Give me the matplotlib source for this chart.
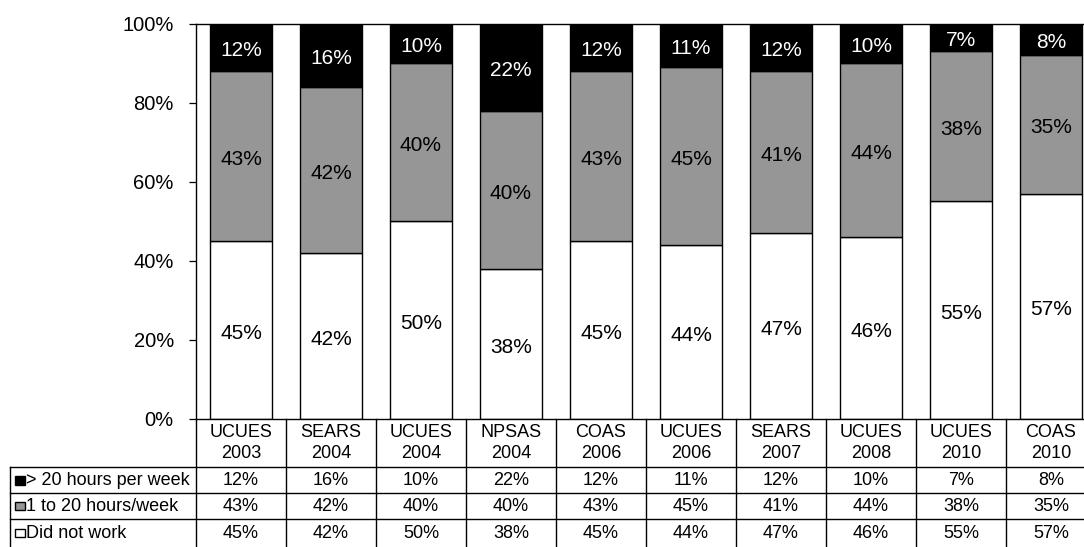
import matplotlib
matplotlib.use("Agg")
import matplotlib.pyplot as plt
from matplotlib.patches import Rectangle
from matplotlib.transforms import blended_transform_factory
from matplotlib.ticker import PercentFormatter

plt.rcParams['font.family'] = ['Liberation Sans', 'DejaVu Sans']

surveys = ["UCUES\n2003", "SEARS\n2004", "UCUES\n2004", "NPSAS\n2004", "COAS\n2006",
           "UCUES\n2006", "SEARS\n2007", "UCUES\n2008", "UCUES\n2010", "COAS\n2010"]
series_names = ["> 20 hours per week", "1 to 20 hours/week", "Did not work"]
over_20 = [12, 16, 10, 22, 12, 11, 12, 10, 7, 8]
one_to_20 = [43, 42, 40, 40, 43, 45, 41, 44, 38, 35]
did_not_work = [45, 42, 50, 38, 45, 44, 47, 46, 55, 57]
series_colors = ["#000000", "#969696", "#ffffff"]
label_colors = ["white", "black", "black"]

W, H = 1084, 547
fig = plt.figure(figsize=(W / 100, H / 100), dpi=100)
ax = fig.add_axes([196 / W, 1 - 419 / H, 900 / W, 395.5 / H])

x = list(range(len(surveys)))
bar_w = 0.68
stack = [(did_not_work, 2), (one_to_20, 1), (over_20, 0)]
bottom = [0] * len(x)
for vals, k in stack:
    ax.bar(x, vals, width=bar_w, bottom=bottom, color=series_colors[k],
           edgecolor="black", linewidth=1.0, zorder=2)
    for i, v in enumerate(vals):
        ax.annotate(f"{v}%", (x[i], bottom[i] + v / 2), xytext=(0, -2.5),
                    textcoords="offset points", ha="center", va="center",
                    fontsize=15, color=label_colors[k], zorder=3)
    bottom = [b + v for b, v in zip(bottom, vals)]

ax.set_xlim(-0.5, len(x) - 0.5)
ax.set_ylim(0, 100)
ax.set_yticks([0, 20, 40, 60, 80, 100])
ax.yaxis.set_major_formatter(PercentFormatter(decimals=0))
ax.tick_params(axis="y", direction="out", length=5, width=0.9, pad=11, labelsize=14.5)
ax.set_xticks([])
for s in ax.spines.values():
    s.set_linewidth(1.0)

# data table under the plot
tr = blended_transform_factory(ax.transData, ax.transAxes)
def yfrac(py):
    return (419 - py) / 395.5

row_lines = [467, 493, 518.5, 547]
x_left = -0.5 + (10 - 196) / 90
line_kw = dict(color="black", linewidth=1.0, transform=tr, clip_on=False)

# header cells
for i in range(len(x) + 1):
    ax.plot([i - 0.5, i - 0.5], [yfrac(419), yfrac(547)], **line_kw)
for py in row_lines[:-1]:
    ax.plot([x_left, len(x) - 0.5], [yfrac(py), yfrac(py)], **line_kw)
ax.plot([x_left, x_left], [yfrac(467), yfrac(547)], **line_kw)

for i, name in enumerate(surveys):
    ax.text(x[i], yfrac(443), name, ha="center", va="center", fontsize=13,
            linespacing=1.3, transform=tr, clip_on=False)

table_rows = [over_20, one_to_20, did_not_work]
for r, vals in enumerate(table_rows):
    yc = yfrac((row_lines[r] + row_lines[r + 1]) / 2 + 0.5)
    for i, v in enumerate(vals):
        ax.text(x[i], yc, f"{v}%", ha="center", va="center", fontsize=13,
                transform=tr, clip_on=False)
    # legend key + series name
    py_mid = (row_lines[r] + row_lines[r + 1]) / 2
    fig.patches.append(Rectangle((15 / W, 1 - (py_mid + 4.5) / H), 9.5 / W, 8.5 / H,
                                 facecolor=series_colors[r], edgecolor="black",
                                 linewidth=1.0, transform=fig.transFigure))
    fig.text(25.5 / W, 1 - (py_mid + 0.5) / H, series_names[r], ha="left", va="center",
             fontsize=13)

fig.savefig("out.png", dpi=100)
